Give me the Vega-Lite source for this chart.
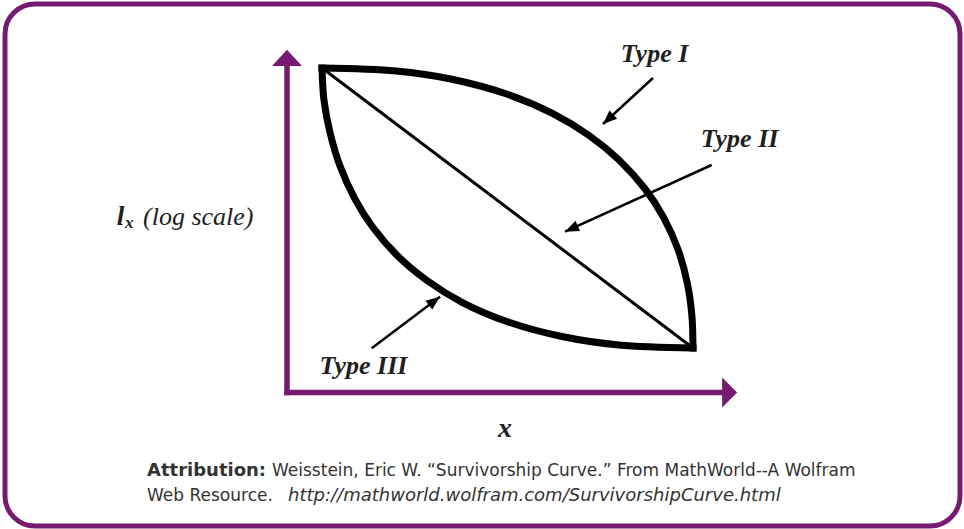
{
  "$schema": "https://vega.github.io/schema/vega-lite/v6.json",
  "autosize": {"type": "fit", "contains": "padding"},
  "width": 964,
  "height": 529,
  "padding": {"left": 5, "top": 4, "right": 4, "bottom": 3},
  "background": "white",
  "config": {
    "view": {"stroke": "#761a72", "strokeWidth": 5, "cornerRadius": 30, "fill": "white"}
  },
  "datasets": {
    "axes": [
      {"axis": "y", "x": 0, "y": 0, "x2": 0, "y2": 9.55},
      {"axis": "x", "x": 0, "y": 0, "x2": 9.67, "y2": 0}
    ],
    "curves": [
      {"curve": "Type I", "age": 0.778, "lx": 9.488},
      {"curve": "Type I", "age": 2.427, "lx": 9.401},
      {"curve": "Type I", "age": 3.664, "lx": 9.161},
      {"curve": "Type I", "age": 4.9, "lx": 8.719},
      {"curve": "Type I", "age": 5.889, "lx": 8.167},
      {"curve": "Type I", "age": 6.713, "lx": 7.515},
      {"curve": "Type I", "age": 7.373, "lx": 6.807},
      {"curve": "Type I", "age": 7.951, "lx": 5.965},
      {"curve": "Type I", "age": 8.362, "lx": 5.135},
      {"curve": "Type I", "age": 8.693, "lx": 4.17},
      {"curve": "Type I", "age": 8.898, "lx": 3.187},
      {"curve": "Type I", "age": 8.998, "lx": 2.243},
      {"curve": "Type I", "age": 9.022, "lx": 1.301},
      {"curve": "Type III", "age": 0.778, "lx": 9.488},
      {"curve": "Type III", "age": 0.822, "lx": 8.547},
      {"curve": "Type III", "age": 0.956, "lx": 7.602},
      {"curve": "Type III", "age": 1.178, "lx": 6.62},
      {"curve": "Type III", "age": 1.511, "lx": 5.655},
      {"curve": "Type III", "age": 1.911, "lx": 4.825},
      {"curve": "Type III", "age": 2.467, "lx": 3.982},
      {"curve": "Type III", "age": 3.111, "lx": 3.275},
      {"curve": "Type III", "age": 3.911, "lx": 2.623},
      {"curve": "Type III", "age": 4.9, "lx": 2.07},
      {"curve": "Type III", "age": 6.138, "lx": 1.629},
      {"curve": "Type III", "age": 7.373, "lx": 1.389},
      {"curve": "Type III", "age": 9.022, "lx": 1.301}
    ],
    "typeII": [
      {"curve": "Type II", "age": 0.778, "lx": 9.488, "age2": 9.022, "lx2": 1.301}
    ],
    "pointers": [
      {"label": "Type I", "x": 8.133, "y": 9.196, "x2": 7.022, "y2": 7.851},
      {"label": "Type II", "x": 9.438, "y": 6.652, "x2": 6.178, "y2": 4.702},
      {"label": "Type III", "x": 1.882, "y": 1.292, "x2": 3.4, "y2": 2.801}
    ],
    "labels": [
      {"text": "Type I", "x": 8.167, "y": 9.673},
      {"text": "Type II", "x": 10.056, "y": 7.178},
      {"text": "Type III", "x": 1.7, "y": 0.532}
    ],
    "ylabel": [
      {"part": "l", "text": "l", "x": -3.784, "y": 4.898},
      {"part": "sub", "text": "x", "x": -3.6, "y": 4.81},
      {"part": "rest", "text": "(log scale)", "x": -3.2, "y": 4.898}
    ],
    "xlabel": [
      {"text": "x", "x": 4.844, "y": -1.301}
    ],
    "attribution": [
      {"part": "head", "text": "Attribution:", "x": -3.111, "y": -2.442},
      {"part": "body", "text": "Weisstein, Eric W. “Survivorship Curve.” From MathWorld--A Wolfram", "x": -0.333, "y": -2.442},
      {"part": "body", "text": "Web Resource.", "x": -3.111, "y": -3.173},
      {"part": "url", "text": "http://mathworld.wolfram.com/SurvivorshipCurve.html", "x": 0.022, "y": -3.173}
    ]
  },
  "encoding": {
    "x": {"type": "quantitative", "scale": {"domain": [-6.267, 14.956], "nice": false, "zero": false}, "axis": null},
    "y": {"type": "quantitative", "scale": {"domain": [-3.904, 11.36], "nice": false, "zero": false}, "axis": null}
  },
  "layer": [
    {
      "data": {"name": "axes"},
      "mark": {"type": "rule", "color": "#761a72", "strokeWidth": 5.5, "strokeCap": "square"},
      "encoding": {
        "x": {"field": "x", "type": "quantitative"},
        "y": {"field": "y", "type": "quantitative"},
        "x2": {"field": "x2"},
        "y2": {"field": "y2"}
      }
    },
    {
      "data": {"name": "axes"},
      "transform": [{"filter": "datum.axis === 'y'"}],
      "mark": {"type": "point", "shape": "M-1,0L1,0L0,-1.07Z", "size": 900, "filled": true, "color": "#761a72", "opacity": 1},
      "encoding": {
        "x": {"field": "x2", "type": "quantitative"},
        "y": {"field": "y2", "type": "quantitative"}
      }
    },
    {
      "data": {"name": "axes"},
      "transform": [{"filter": "datum.axis === 'x'"}],
      "mark": {"type": "point", "shape": "M0,-1L0,1L1,0Z", "size": 900, "filled": true, "color": "#761a72", "opacity": 1},
      "encoding": {
        "x": {"field": "x2", "type": "quantitative"},
        "y": {"field": "y2", "type": "quantitative"}
      }
    },
    {
      "data": {"name": "typeII"},
      "mark": {"type": "rule", "color": "black", "strokeWidth": 3},
      "encoding": {
        "x": {"field": "age", "type": "quantitative"},
        "y": {"field": "lx", "type": "quantitative"},
        "x2": {"field": "age2"},
        "y2": {"field": "lx2"}
      }
    },
    {
      "data": {"name": "curves"},
      "mark": {"type": "line", "color": "black", "strokeWidth": 7, "interpolate": "catmull-rom", "strokeCap": "square"},
      "encoding": {
        "x": {"field": "age", "type": "quantitative"},
        "y": {"field": "lx", "type": "quantitative"},
        "detail": {"field": "curve"}
      }
    },
    {
      "data": {"name": "pointers"},
      "mark": {"type": "rule", "color": "black", "strokeWidth": 2.5},
      "encoding": {
        "x": {"field": "x", "type": "quantitative"},
        "y": {"field": "y", "type": "quantitative"},
        "x2": {"field": "x2"},
        "y2": {"field": "y2"}
      }
    },
    {
      "data": {"name": "pointers"},
      "transform": [{"filter": "datum.label === 'Type I'"}],
      "mark": {"type": "point", "shape": "M0,0L-1,-0.4L-1,0.4Z", "size": 784, "filled": true, "color": "black", "opacity": 1, "angle": 137.4},
      "encoding": {
        "x": {"field": "x2", "type": "quantitative"},
        "y": {"field": "y2", "type": "quantitative"}
      }
    },
    {
      "data": {"name": "pointers"},
      "transform": [{"filter": "datum.label === 'Type II'"}],
      "mark": {"type": "point", "shape": "M0,0L-1,-0.4L-1,0.4Z", "size": 784, "filled": true, "color": "black", "opacity": 1, "angle": 155.5},
      "encoding": {
        "x": {"field": "x2", "type": "quantitative"},
        "y": {"field": "y2", "type": "quantitative"}
      }
    },
    {
      "data": {"name": "pointers"},
      "transform": [{"filter": "datum.label === 'Type III'"}],
      "mark": {"type": "point", "shape": "M0,0L-1,-0.4L-1,0.4Z", "size": 784, "filled": true, "color": "black", "opacity": 1, "angle": 322.9},
      "encoding": {
        "x": {"field": "x2", "type": "quantitative"},
        "y": {"field": "y2", "type": "quantitative"}
      }
    },
    {
      "data": {"name": "labels"},
      "mark": {"type": "text", "font": "Liberation Serif", "fontSize": 26, "fontWeight": "bold", "fontStyle": "italic", "color": "#231f20", "align": "center", "baseline": "alphabetic"},
      "encoding": {
        "x": {"field": "x", "type": "quantitative"},
        "y": {"field": "y", "type": "quantitative"},
        "text": {"field": "text"}
      }
    },
    {
      "data": {"name": "ylabel"},
      "transform": [{"filter": "datum.part === 'l'"}],
      "mark": {"type": "text", "font": "Liberation Serif", "fontSize": 27, "fontWeight": "bold", "fontStyle": "italic", "color": "#231f20", "align": "left", "baseline": "alphabetic"},
      "encoding": {
        "x": {"field": "x", "type": "quantitative"},
        "y": {"field": "y", "type": "quantitative"},
        "text": {"field": "text"}
      }
    },
    {
      "data": {"name": "ylabel"},
      "transform": [{"filter": "datum.part === 'sub'"}],
      "mark": {"type": "text", "font": "Liberation Serif", "fontSize": 17, "fontWeight": "bold", "fontStyle": "italic", "color": "#231f20", "align": "left", "baseline": "alphabetic"},
      "encoding": {
        "x": {"field": "x", "type": "quantitative"},
        "y": {"field": "y", "type": "quantitative"},
        "text": {"field": "text"}
      }
    },
    {
      "data": {"name": "ylabel"},
      "transform": [{"filter": "datum.part === 'rest'"}],
      "mark": {"type": "text", "font": "Liberation Serif", "fontSize": 26, "fontStyle": "italic", "color": "#231f20", "align": "left", "baseline": "alphabetic"},
      "encoding": {
        "x": {"field": "x", "type": "quantitative"},
        "y": {"field": "y", "type": "quantitative"},
        "text": {"field": "text"}
      }
    },
    {
      "data": {"name": "xlabel"},
      "mark": {"type": "text", "font": "Liberation Serif", "fontSize": 28, "fontWeight": "bold", "fontStyle": "italic", "color": "#231f20", "align": "center", "baseline": "alphabetic"},
      "encoding": {
        "x": {"field": "x", "type": "quantitative"},
        "y": {"field": "y", "type": "quantitative"},
        "text": {"field": "text"}
      }
    },
    {
      "data": {"name": "attribution"},
      "transform": [{"filter": "datum.part === 'head'"}],
      "mark": {"type": "text", "font": "DejaVu Sans", "fontSize": 18, "fontWeight": "bold", "color": "#333333", "align": "left", "baseline": "alphabetic"},
      "encoding": {
        "x": {"field": "x", "type": "quantitative"},
        "y": {"field": "y", "type": "quantitative"},
        "text": {"field": "text"}
      }
    },
    {
      "data": {"name": "attribution"},
      "transform": [{"filter": "datum.part === 'body'"}],
      "mark": {"type": "text", "font": "DejaVu Sans", "fontSize": 17, "color": "#333333", "align": "left", "baseline": "alphabetic"},
      "encoding": {
        "x": {"field": "x", "type": "quantitative"},
        "y": {"field": "y", "type": "quantitative"},
        "text": {"field": "text"}
      }
    },
    {
      "data": {"name": "attribution"},
      "transform": [{"filter": "datum.part === 'url'"}],
      "mark": {"type": "text", "font": "DejaVu Sans", "fontSize": 18, "fontStyle": "italic", "color": "#333333", "align": "left", "baseline": "alphabetic"},
      "encoding": {
        "x": {"field": "x", "type": "quantitative"},
        "y": {"field": "y", "type": "quantitative"},
        "text": {"field": "text"}
      }
    }
  ]
}
